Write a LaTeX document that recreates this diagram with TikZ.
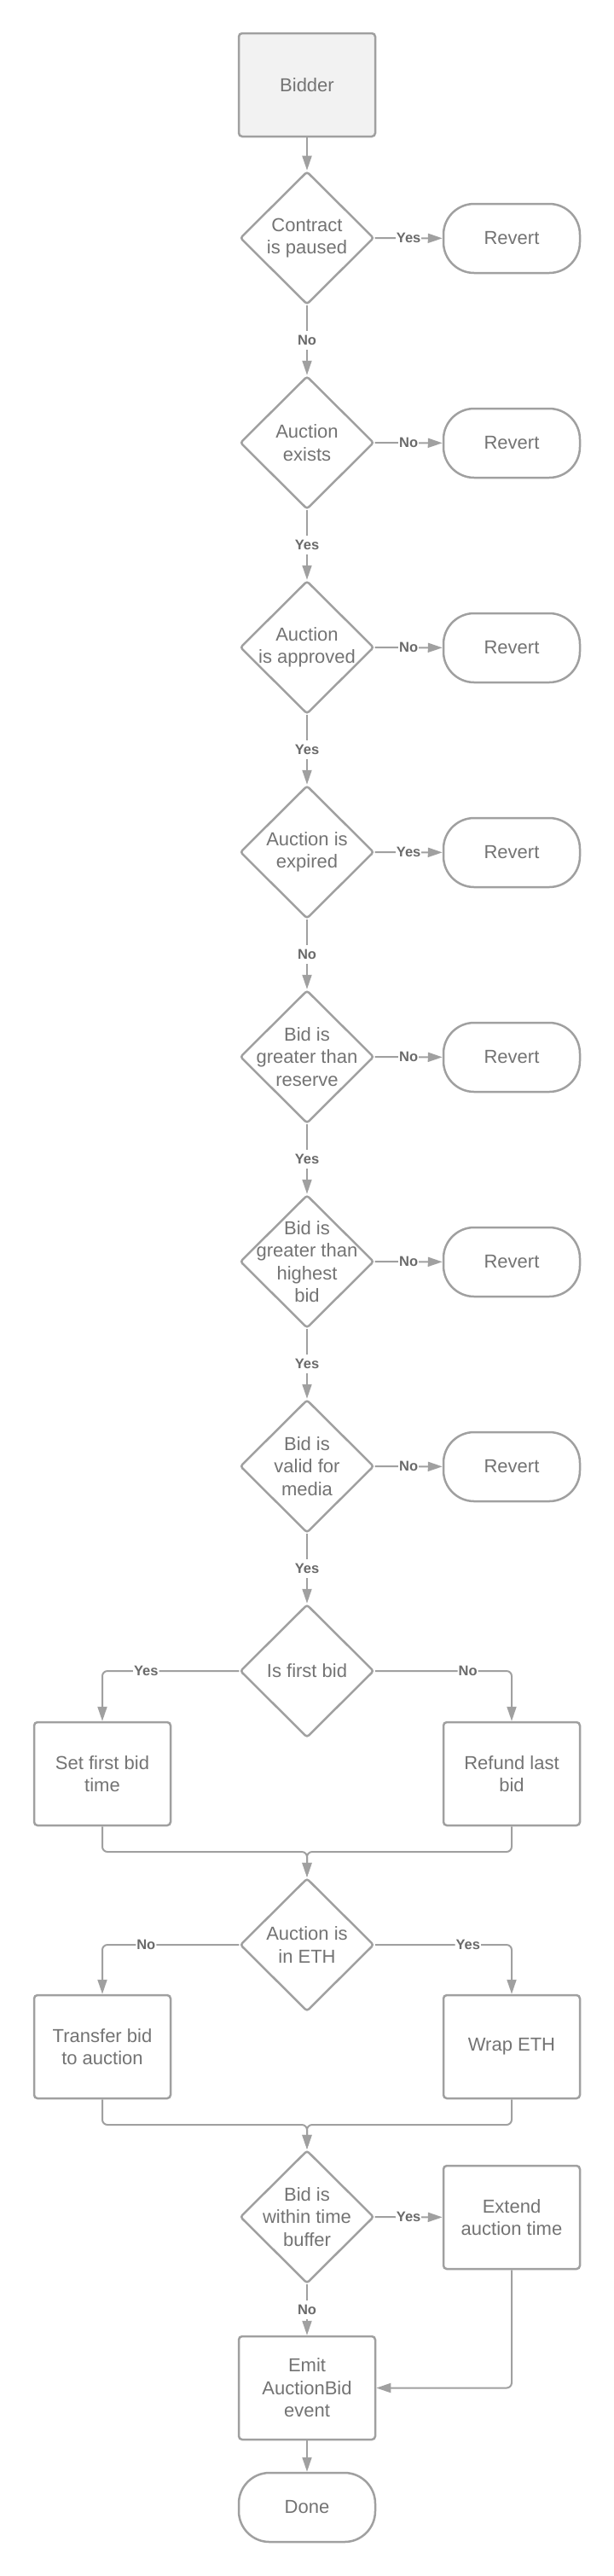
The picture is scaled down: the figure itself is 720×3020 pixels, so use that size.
\documentclass[tikz,border=0pt]{standalone}
\usepackage{fontspec}
\setmainfont{Liberation Sans}
\usetikzlibrary{shapes.geometric,arrows.meta}

\definecolor{linegray}{HTML}{A0A0A0}
\definecolor{txtgray}{HTML}{737373}
\definecolor{lblgray}{HTML}{6A6A6A}
\definecolor{startfill}{HTML}{F2F2F2}

\tikzset{
  base/.style={draw=linegray,line width=2.5pt,text=txtgray,align=center,
    font=\fontsize{22}{26.5}\selectfont},
  process/.style={base,rectangle,rounded corners=4pt,minimum width=160pt,
    minimum height=121pt,inner sep=0pt},
  terminal/.style={base,rectangle,rounded corners=36pt,minimum width=160pt,
    minimum height=81pt,inner sep=0pt},
  decision/.style={base,diamond,rounded corners=3pt,minimum width=157pt,
    minimum height=156pt,inner sep=0pt},
  dtext/.style={align=center,text=txtgray,inner sep=0pt,
    font=\fontsize{22}{26.5}\selectfont},
  flow/.style={draw=linegray,line width=2pt,-{Triangle[length=17pt,width=11pt]}},
  lbl/.style={fill=white,text=lblgray,font=\fontsize{16.5}{18}\selectfont\bfseries,
    inner xsep=1pt,inner ysep=5pt}
}

\begin{document}
\begin{tikzpicture}[x=1pt,y=-1pt]
\useasboundingbox (0,0) rectangle (720,3020);

% start
\node[process,fill=startfill] (bidder) at (360,99.5) {Bidder};

% checks that revert
\node[decision,label={[dtext]center:Contract\\is paused}] (paused) at (360,279) {};
\node[terminal] (revA) at (600,279.5) {Revert};
\node[decision,label={[dtext]center:Auction\\exists}] (exists) at (360,519) {};
\node[terminal] (revB) at (600,519.5) {Revert};
\node[decision,label={[dtext]center:Auction\\is approved}] (approved) at (360,759) {};
\node[terminal] (revC) at (600,759.5) {Revert};
\node[decision,label={[dtext]center:Auction is\\expired}] (expired) at (360,999) {};
\node[terminal] (revD) at (600,999.5) {Revert};
\node[decision,label={[dtext]center:Bid is\\greater than\\reserve}] (reserve) at (360,1239) {};
\node[terminal] (revE) at (600,1239.5) {Revert};
\node[decision,label={[dtext]center:Bid is\\greater than\\highest\\bid}] (highest) at (360,1479) {};
\node[terminal] (revF) at (600,1479.5) {Revert};
\node[decision,label={[dtext]center:Bid is\\valid for\\media}] (media) at (360,1719) {};
\node[terminal] (revG) at (600,1719.5) {Revert};

% first bid or not
\node[decision,label={[dtext]center:Is first bid}] (firstbid) at (360,1959) {};
\node[process] (setbid) at (120,2079.5) {Set first bid\\time};
\node[process] (refund) at (600,2079.5) {Refund last\\bid};
\coordinate (joinA) at (360,2171);

% payment
\node[decision,label={[dtext]center:Auction is\\in ETH}] (ineth) at (360,2280) {};
\node[process] (transfer) at (120,2399.5) {Transfer bid\\to auction};
\node[process] (wrap) at (600,2399.5) {Wrap ETH};
\coordinate (joinB) at (360,2491);

% time buffer and end
\node[decision,label={[dtext]center:Bid is\\within time\\buffer}] (buffer) at (360,2599) {};
\node[process] (extend) at (600,2599.5) {Extend\\auction time};
\node[process] (emit) at (360,2799.5) {Emit\\AuctionBid\\event};
\node[terminal] (done) at (360,2939.5) {Done};

\draw[flow] (bidder) -- (paused);
\draw[flow] (paused) -- node[lbl]{Yes} (revA);
\draw[flow] (paused) -- node[lbl]{No} (exists);
\draw[flow] (exists) -- node[lbl]{No} (revB);
\draw[flow] (exists) -- node[lbl]{Yes} (approved);
\draw[flow] (approved) -- node[lbl]{No} (revC);
\draw[flow] (approved) -- node[lbl]{Yes} (expired);
\draw[flow] (expired) -- node[lbl]{Yes} (revD);
\draw[flow] (expired) -- node[lbl]{No} (reserve);
\draw[flow] (reserve) -- node[lbl]{No} (revE);
\draw[flow] (reserve) -- node[lbl]{Yes} (highest);
\draw[flow] (highest) -- node[lbl]{No} (revF);
\draw[flow] (highest) -- node[lbl]{Yes} (media);
\draw[flow] (media) -- node[lbl]{No} (revG);
\draw[flow] (media) -- node[lbl]{Yes} (firstbid);

\draw[flow,rounded corners=6pt] (firstbid.west) -| node[lbl,pos=0.34]{Yes} (setbid.north);
\draw[flow,rounded corners=6pt] (firstbid.east) -| node[lbl,pos=0.34]{No} (refund.north);
\draw[flow,rounded corners=6pt] (setbid.south) |- (joinA) -- (ineth.north);
\draw[flow,rounded corners=6pt] (refund.south) |- (joinA) -- (ineth.north);

\draw[flow,rounded corners=6pt] (ineth.west) -| node[lbl,pos=0.34]{No} (transfer.north);
\draw[flow,rounded corners=6pt] (ineth.east) -| node[lbl,pos=0.34]{Yes} (wrap.north);
\draw[flow,rounded corners=6pt] (transfer.south) |- (joinB) -- (buffer.north);
\draw[flow,rounded corners=6pt] (wrap.south) |- (joinB) -- (buffer.north);

\draw[flow] (buffer) -- node[lbl]{Yes} (extend);
\draw[flow] (buffer) -- node[lbl]{No} (emit);
\draw[flow,rounded corners=6pt] (extend.south) |- (emit.east);
\draw[flow] (emit) -- (done);
\end{tikzpicture}
\end{document}
